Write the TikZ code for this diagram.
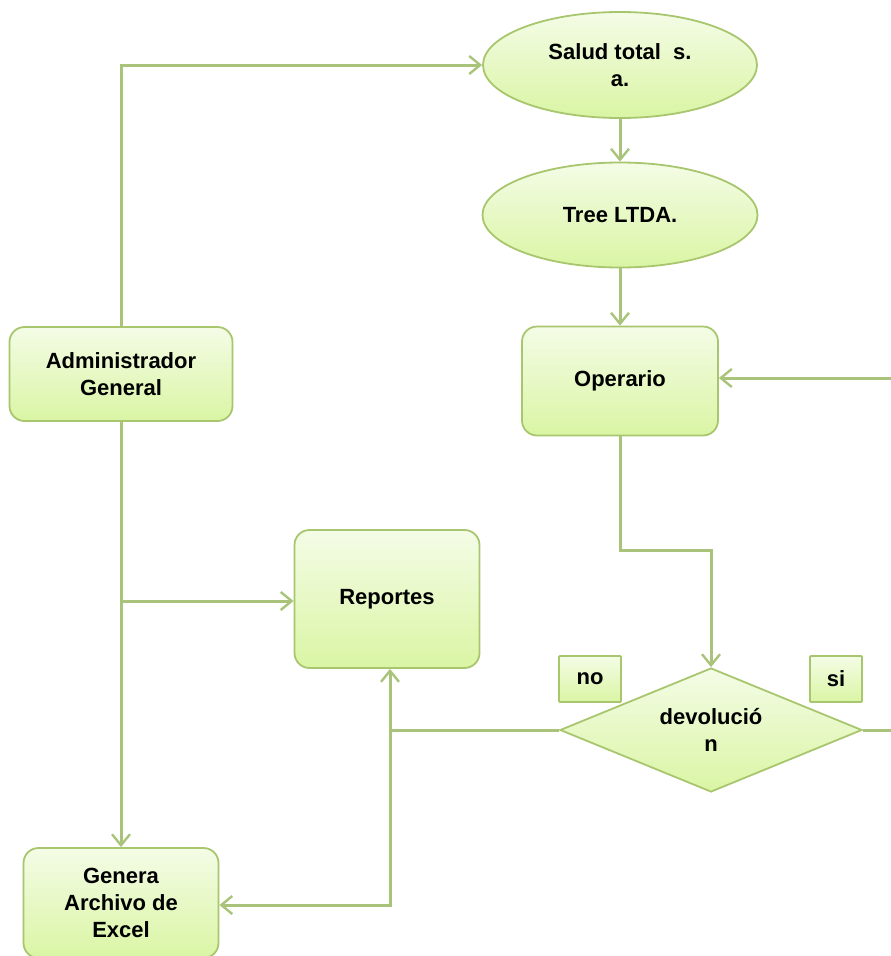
\documentclass[tikz,border=0pt]{standalone}
\usepackage{fontspec}
\setmainfont{Liberation Sans}
\usetikzlibrary{shapes.geometric,arrows.meta}
\definecolor{lineg}{HTML}{A9C47A}
\definecolor{edgeg}{HTML}{A8C66E}
\definecolor{filltop}{HTML}{F4FCE6}
\definecolor{fillbot}{HTML}{DAF5A4}
\tikzset{
  box/.style={draw=edgeg, line width=1.8pt, top color=filltop, bottom color=fillbot,
    rounded corners=15pt, inner sep=0pt, align=center,
    font=\fontsize{22}{27}\selectfont\bfseries},
  oval/.style={box, ellipse, rounded corners=0pt},
  decision/.style={box, diamond, rounded corners=0pt},
  tag/.style={box, rounded corners=1pt, minimum width=62pt, minimum height=46pt},
  conn/.style={draw=lineg, line width=3pt},
  arr/.style={conn, -{Straight Barb[length=11pt,width=18pt,line width=2.4pt]}}
}
\begin{document}
\begin{tikzpicture}[x=1pt,y=-1pt]
\useasboundingbox (0,0) rectangle (891,956);
\node[oval, minimum width=274pt, minimum height=106pt] (salud) at (620,65) {Salud total\ \ s.\\a.};
\node[oval, minimum width=275pt, minimum height=105pt] (tree) at (620,215) {Tree LTDA.};
\node[box, minimum width=196pt, minimum height=109pt] (oper) at (620,381) {Operario};
\node[box, minimum width=223pt, minimum height=94pt] (admin) at (121,374) {Administrador\\General};
\node[box, minimum width=185pt, minimum height=138pt] (rep) at (387,599) {Reportes};
\node[decision, minimum width=302pt, minimum height=124pt, aspect=2.4] (dev) at (711,730) {devolució\\n};
\node[tag] (no) at (590,679) {no};
\node[tag, minimum width=52pt] (si) at (836,679) {si};
\node[box, minimum width=195pt, minimum height=110pt] (gen) at (121,903) {Genera\\Archivo de\\Excel};
\coordinate (c2) at (620,550);
\coordinate (c3) at (711,550);
\coordinate (c4) at (893,730);
\coordinate (c5) at (893,378);
\coordinate (c6) at (390,730);
\coordinate (c7) at (390,905);
\coordinate (c8) at (121,601);
\draw[arr] (admin.north) -- (admin.north |- salud.west) -- (salud.west);
\draw[arr] (salud.south) -- (tree.north);
\draw[arr] (tree.south) -- (oper.north);
\draw[arr] (oper.south) -- (c2) -- (c3) -- (dev.north);
\draw[arr] (dev.east) -- (c4) -- (c5) -- (oper.east |- c5);
\draw[arr] (dev.west) -- (c6) -- (rep.south -| c6);
\draw[arr] (c6) -- (c7) -- (gen.east |- c7);
\draw[arr] (admin.south) -- (gen.north);
\draw[arr] (c8) -- (rep.west |- c8);
\end{tikzpicture}
\end{document}
